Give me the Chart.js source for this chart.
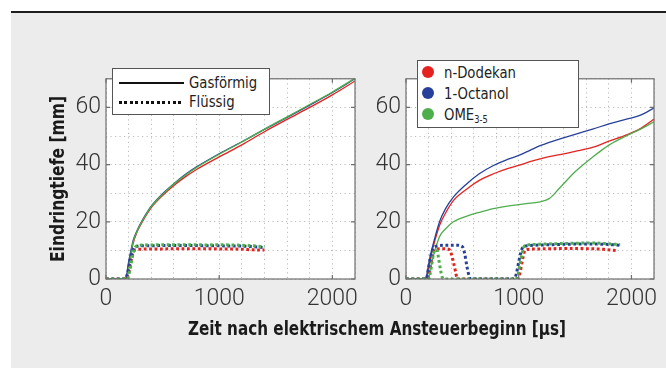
<!DOCTYPE html>
<html>
<head>
<meta charset="utf-8">
<script src="https://cdn.jsdelivr.net/npm/chart.js@4.4.1/dist/chart.umd.min.js"></script>
<style>
  html, body { margin: 0; padding: 0; background: #fff; }
  body { width: 666px; height: 369px; position: relative; overflow: hidden; }
  .panel { position: absolute; left: 11px; top: 13px; width: 655px; height: 355px; background: #ececec; }
  .rule { position: absolute; left: 11px; top: 11px; width: 655px; height: 2px; background: #1e1e1e; }
  canvas { position: absolute; }
  .cond { font-family: "Liberation Sans Narrow", "DejaVu Sans Condensed", "Roboto Condensed", sans-serif; font-stretch: condensed; color: #1a1a1a; }
  .xtitle { position: absolute; left: 127px; top: 317px; width: 500px; text-align: center; font-size: 19px; line-height: 22px; font-weight: bold; transform: scaleX(0.89); }
  .ytitle { position: absolute; left: -43px; top: 167px; width: 200px; height: 24px; line-height: 24px; text-align: center; font-size: 19px; font-weight: bold; transform: rotate(-90deg) scaleX(0.91); }
  .legend { position: absolute; background: #fff; border: 1px solid #555; box-sizing: border-box; }
  .legend .row { position: absolute; font-size: 16px; line-height: 18px; color: #222; transform: scaleX(0.92); transform-origin: left center; }
  .legend .solid { position: absolute; height: 2px; background: #111; }
  .legend .dots { position: absolute; height: 3px; background: repeating-linear-gradient(90deg, #111 0 2.8px, transparent 2.8px 5.4px); }
  .legend .dot { position: absolute; width: 12px; height: 12px; border-radius: 50%; }
  sub { font-size: 10px; vertical-align: -3px; line-height: 0; }
</style>
</head>
<body>
<div class="panel"></div>
<div class="rule"></div>
<canvas id="left" width="370" height="300" style="left:0;top:60px"></canvas>
<canvas id="right" width="366" height="300" style="left:300px;top:60px"></canvas>
<div class="ytitle cond">Eindringtiefe [mm]</div>
<div class="xtitle cond">Zeit nach elektrischem Ansteuerbeginn [µs]</div>
<div id="legendLeft" class="legend cond" style="left:112px;top:68px;width:158px;height:47px"></div>
<div id="legendRight" class="legend cond" style="left:417px;top:60px;width:162px;height:68px"></div>
<script>
// colours of the three fuels
const fuelColors = ['#e4221f', '#27409a', '#4eae4c'];
const fuelNames = ['n-Dodekan', '1-Octanol', 'OME'];
const fuelSubs = ['', '', '3-5'];
const phaseNames = ['Gasförmig', 'Flüssig'];

// axis settings
const xMax = 2200;
const yMax = 70;

// left panel: gaseous penetration (all fuels)
const leftGasT = [0, 170, 185, 200, 220, 240, 270, 300, 350, 400, 500, 600, 700, 800, 1000, 1200, 1400, 1600, 1800, 2000, 2200];
const leftGasRed = [0, 0, 1, 5, 9, 12.5, 16, 18.5, 22, 25, 29.2, 32.7, 35.7, 38.3, 42.7, 46.9, 51.5, 55.8, 60, 64.4, 69.2];
const leftGasBlue = [0, 0, 2, 6, 10, 13.5, 16.5, 19, 22.5, 25.5, 29.8, 33.3, 36.5, 39.2, 43.8, 48, 52.3, 56.5, 60.8, 65.2, 70];
const leftGasGreen = [0, 0, 0, 4, 9, 13, 16.3, 18.8, 22.3, 25.3, 29.6, 33.2, 36.3, 39, 43.6, 47.9, 52.4, 56.7, 61, 65.4, 70.2];

// left panel: liquid penetration
const leftLiqT = [0, 170, 190, 210, 230, 250, 270, 300, 400, 500, 600, 700, 800, 900, 1000, 1100, 1200, 1300, 1400];
const leftLiqRed = [0, 0, 1, 4, 8, 10, 10.3, 10.4, 10.5, 10.5, 10.6, 10.6, 10.6, 10.6, 10.5, 10.5, 10.4, 10.2, 10.1];
const leftLiqBlue = [0, 0, 2, 6, 9.5, 11, 11.4, 11.6, 11.6, 11.7, 11.7, 11.7, 11.7, 11.6, 11.6, 11.5, 11.5, 11.3, 11];
const leftLiqGreen = [0, 0, 0, 3, 7, 10.5, 11.5, 11.8, 11.9, 12, 12, 12, 12, 11.9, 12, 11.9, 11.8, 11.6, 11.3];

// right panel: gaseous penetration
const rightGasT = [0, 170, 185, 200, 215, 230, 260, 300, 350, 420, 540, 650, 776, 900, 1000, 1100, 1190, 1270, 1367, 1500, 1662, 1800, 1957, 2075, 2200];
const rightGasRed = [0, 0, 1, 4, 7, 9.5, 14, 19, 23, 27.4, 31.5, 34.5, 36.8, 38.6, 39.7, 41, 42, 42.8, 43.5, 44.6, 46.1, 48.2, 50.4, 52.5, 55.9];
const rightGasBlue = [0, 0, 1.5, 5, 8, 10.5, 15, 20.3, 24.5, 28.6, 33.3, 36.8, 39.7, 41.8, 43.2, 45, 46.6, 47.8, 49, 50.6, 52.5, 54.2, 55.9, 57.2, 59.8];
const rightGasGreen = [0, 0, 0, 0, 3, 6, 10.5, 15, 17.5, 20, 22, 23.3, 24.6, 25.5, 26, 26.5, 27, 28.1, 32, 37.5, 42.8, 46.8, 50.1, 52.3, 55];

// right panel: liquid penetration (two injections)
const rightLiqRedT = [0, 190, 210, 230, 250, 280, 330, 380, 400, 420, 440, 455, 480, 600, 800, 990, 1010, 1030, 1050, 1070, 1150, 1300, 1450, 1600, 1750, 1870];
const rightLiqRed = [0, 0, 3, 7, 10, 10.5, 10.6, 10.4, 9, 6, 2.5, 0, 0, 0, 0, 0, 2, 6, 9.5, 10.3, 10.5, 10.6, 10.7, 10.6, 10.4, 9.9];
const rightLiqBlueT = [0, 180, 200, 220, 240, 270, 350, 450, 500, 520, 540, 560, 575, 700, 900, 960, 980, 1000, 1020, 1040, 1100, 1300, 1500, 1700, 1900];
const rightLiqBlue = [0, 0, 4, 8, 10.5, 11.5, 11.8, 11.8, 11.3, 9, 4.5, 1, 0, 0, 0, 0, 2, 6, 9.5, 11.2, 11.7, 12, 12.2, 12.2, 11.8];
const rightLiqGreenT = [0, 200, 215, 230, 245, 260, 275, 290, 305, 320, 335, 600, 900, 970, 990, 1010, 1030, 1050, 1100, 1300, 1500, 1650, 1800, 1900];
const rightLiqGreen = [0, 0, 2, 5.5, 9, 10.3, 10, 7, 3.5, 0.8, 0, 0, 0, 0, 1, 5, 9, 11.5, 12, 12.3, 12.5, 12.6, 12.3, 12];

function pts(t, v) {
    return t.map((x, i) => ({ x: x, y: v[i] }));
}

function gasSet(t, v, color) {
    return { data: pts(t, v), borderColor: color, borderWidth: 1.3, pointRadius: 0, cubicInterpolationMode: 'monotone', fill: false };
}

function liqSet(t, v, color) {
    return { data: pts(t, v), borderColor: color, borderWidth: 3, borderDash: [2.8, 2.6], pointRadius: 0, cubicInterpolationMode: 'monotone', fill: false };
}

// white plot area, then frame with inward ticks on all four sides
const framePlugin = {
    id: 'frame',
    beforeDraw(chart) {
        const a = chart.chartArea, ctx = chart.ctx;
        ctx.save();
        ctx.fillStyle = '#fff';
        ctx.fillRect(a.left, a.top, a.right - a.left, a.bottom - a.top);
        ctx.restore();
    },
    afterDraw(chart) {
        const a = chart.chartArea, ctx = chart.ctx;
        const xs = chart.scales.x, ys = chart.scales.y;
        ctx.save();
        ctx.strokeStyle = '#6e6e6e';
        ctx.lineWidth = 1.2;
        ctx.strokeRect(a.left, a.top, a.right - a.left, a.bottom - a.top);
        ctx.beginPath();
        [0, 1000, 2000].forEach(v => {
            const x = xs.getPixelForValue(v);
            ctx.moveTo(x, a.bottom); ctx.lineTo(x, a.bottom - 4);
            ctx.moveTo(x, a.top); ctx.lineTo(x, a.top + 4);
        });
        [0, 20, 40, 60].forEach(v => {
            const y = ys.getPixelForValue(v);
            ctx.moveTo(a.left, y); ctx.lineTo(a.left + 4, y);
            ctx.moveTo(a.right, y); ctx.lineTo(a.right - 4, y);
        });
        ctx.stroke();
        ctx.restore();
    }
};

const tickFont = { family: 'Roboto, "Open Sans", sans-serif', size: 23, weight: '300' };

function makeChart(id, datasets, padRight) {
    return new Chart(document.getElementById(id), {
        type: 'line',
        data: { datasets: datasets },
        options: {
            responsive: false,
            animation: false,
            layout: { padding: { top: 18, right: padRight, bottom: 0, left: 0 } },
            plugins: { legend: { display: false }, tooltip: { enabled: false } },
            scales: {
                x: {
                    type: 'linear', min: 0, max: xMax,
                    afterFit: s => { s.height = 81; },
                    grid: { color: '#bdbdbd', lineWidth: 1, drawTicks: false },
                    border: { display: false, dash: [1.2, 3.3] },
                    ticks: {
                        stepSize: 200, padding: 6, color: '#333', font: tickFont, maxRotation: 0, autoSkip: false,
                        callback: v => (v % 1000 === 0 ? String(v) : '')
                    }
                },
                y: {
                    min: 0, max: yMax,
                    afterFit: s => { s.width = 106; },
                    grid: { color: '#bdbdbd', lineWidth: 1, drawTicks: false },
                    border: { display: false, dash: [1.2, 3.3] },
                    ticks: {
                        stepSize: 10, padding: 5, color: '#333', font: tickFont, autoSkip: false,
                        callback: v => (v % 20 === 0 && v < yMax ? String(v) : '')
                    }
                }
            }
        },
        plugins: [framePlugin]
    });
}

// first dataset is drawn on top: liquid dots over gas lines, green over blue over red
makeChart('left', [
    liqSet(leftLiqT, leftLiqGreen, fuelColors[2]),
    liqSet(leftLiqT, leftLiqBlue, fuelColors[1]),
    liqSet(leftLiqT, leftLiqRed, fuelColors[0]),
    gasSet(leftGasT, leftGasGreen, fuelColors[2]),
    gasSet(leftGasT, leftGasBlue, fuelColors[1]),
    gasSet(leftGasT, leftGasRed, fuelColors[0])
], 15);

makeChart('right', [
    liqSet(rightLiqGreenT, rightLiqGreen, fuelColors[2]),
    liqSet(rightLiqBlueT, rightLiqBlue, fuelColors[1]),
    liqSet(rightLiqRedT, rightLiqRed, fuelColors[0]),
    gasSet(rightGasT, rightGasGreen, fuelColors[2]),
    gasSet(rightGasT, rightGasBlue, fuelColors[1]),
    gasSet(rightGasT, rightGasRed, fuelColors[0])
], 12);

// legends
const ll = document.getElementById('legendLeft');
ll.innerHTML =
    '<div class="solid" style="left:6px;top:13px;width:65px"></div>' +
    '<div class="row" style="left:76px;top:5px">' + phaseNames[0] + '</div>' +
    '<div class="dots" style="left:6px;top:32px;width:65px"></div>' +
    '<div class="row" style="left:76px;top:24px">' + phaseNames[1] + '</div>';

const lr = document.getElementById('legendRight');
lr.innerHTML = fuelNames.map((n, i) =>
    '<div class="dot" style="left:4px;top:' + (5 + i * 21) + 'px;background:' + fuelColors[i] + '"></div>' +
    '<div class="row" style="left:26px;top:' + (3 + i * 21) + 'px">' + n + (fuelSubs[i] ? '<sub>' + fuelSubs[i] + '</sub>' : '') + '</div>'
).join('');
</script>
</body>
</html>
